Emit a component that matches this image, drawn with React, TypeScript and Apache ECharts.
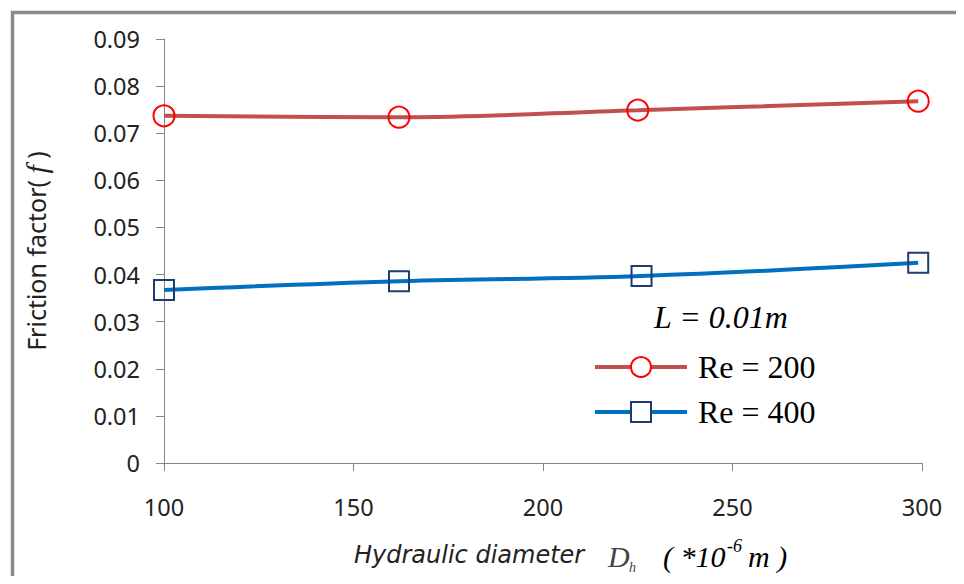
import React, { useEffect, useRef } from "react";
import * as echarts from "echarts";

const xRe200 = [100, 162, 225, 299];
const yRe200 = [0.0737, 0.0734, 0.0749, 0.0768];
const xRe400 = [100, 162, 226, 299];
const yRe400 = [0.0367, 0.0386, 0.0397, 0.0425];
const seriesNames = ["Re = 200", "Re = 400"];
const annotation = "L = 0.01m";

export default function App() {
  const ref = useRef<HTMLDivElement>(null);
  useEffect(() => {
    if (!ref.current) return;
    const chart = echarts.init(ref.current, undefined, { renderer: "svg" });
    const sans = "Noto Sans";
    const serif = "Liberation Serif";
    chart.setOption({
      animation: false,
      backgroundColor: "#ffffff",
      grid: { left: 164, right: 42, top: 39, bottom: 121, containLabel: false },
      xAxis: {
        type: "value",
        min: 100,
        max: 300,
        interval: 50,
        axisLine: { show: true, onZero: false, lineStyle: { color: "#868686", width: 1 } },
        axisTick: { show: true, length: 8, lineStyle: { color: "#868686" } },
        splitLine: { show: false },
        axisLabel: { color: "#222", fontFamily: sans, fontSize: 23.5, margin: 32 },
      },
      yAxis: {
        type: "value",
        min: 0,
        max: 0.09,
        interval: 0.01,
        axisLine: { show: true, lineStyle: { color: "#868686", width: 1 } },
        axisTick: { show: true, length: 8, lineStyle: { color: "#868686" } },
        splitLine: { show: false },
        axisLabel: {
          color: "#222",
          fontFamily: sans,
          fontSize: 23.5,
          margin: 24,
          formatter: (v: number) => (v === 0 ? "0" : v.toFixed(2)),
        },
        name: "{a|Friction factor( }{f|f}{a| )}",
        nameLocation: "middle",
        nameGap: 113,
        nameRotate: 90,
        nameTextStyle: {
          rich: {
            a: { fontFamily: sans, fontSize: 25, color: "#222" },
            f: { fontFamily: serif, fontStyle: "italic", fontSize: 30, color: "#222" },
          },
        },
      },
      legend: {
        orient: "vertical",
        left: 593,
        top: 351,
        padding: 0,
        itemWidth: 92,
        itemHeight: 25,
        itemGap: 13,
        textStyle: { fontFamily: serif, fontSize: 32, color: "#000", padding: [0, 0, 0, 6] },
        data: [
          { name: seriesNames[0], lineStyle: { color: "#C0504D", width: 4 }, itemStyle: { color: "#ffffff", borderColor: "#FF0000", borderWidth: 2 } },
          { name: seriesNames[1], lineStyle: { color: "#0070C0", width: 4 }, itemStyle: { color: "#ffffff", borderColor: "#1F3B73", borderWidth: 2 } },
        ],
      },
      series: [
        {
          name: seriesNames[0],
          type: "line",
          smooth: 0.4,
          data: xRe200.map((x, i) => [x, yRe200[i]]),
          symbol: "circle",
          symbolSize: 21,
          lineStyle: { color: "#C0504D", width: 4 },
          itemStyle: { color: "rgba(255,255,255,0)", borderColor: "#FF0000", borderWidth: 2 },
        },
        {
          name: seriesNames[1],
          type: "line",
          smooth: 0.4,
          data: xRe400.map((x, i) => [x, yRe400[i]]),
          symbol: "rect",
          symbolSize: 20,
          lineStyle: { color: "#0070C0", width: 4 },
          itemStyle: { color: "rgba(255,255,255,0)", borderColor: "#1F3B73", borderWidth: 2 },
        },
      ],
      graphic: [
        {
          type: "rect",
          left: 10,
          top: 10,
          shape: { x: 0, y: 0, width: 1200, height: 1200 },
          style: { fill: "none", stroke: "#8a8a8a", lineWidth: 3.5 },
          silent: true,
          z: -1,
        },
        {
          type: "text",
          x: 654,
          y: 317,
          style: { text: annotation, font: `italic 32px '${serif}'`, fill: "#000", verticalAlign: "middle" },
        },
        {
          type: "text",
          x: 354,
          y: 555,
          style: { text: "Hydraulic diameter", font: `oblique 24px 'DejaVu Sans'`, fill: "#222", verticalAlign: "middle" },
        },
        {
          type: "text",
          x: 608,
          y: 556,
          style: { text: "D", font: `italic 30px '${serif}'`, fill: "#444", verticalAlign: "middle" },
        },
        {
          type: "text",
          x: 629,
          y: 567,
          style: { text: "h", font: `italic 14px '${serif}'`, fill: "#444", verticalAlign: "middle" },
        },
        {
          type: "text",
          x: 663,
          y: 556,
          style: { text: "( *10", font: `italic 30px '${serif}'`, fill: "#000", verticalAlign: "middle" },
        },
        {
          type: "text",
          x: 727,
          y: 546,
          style: { text: "-6", font: `italic 18px '${serif}'`, fill: "#000", verticalAlign: "middle" },
        },
        {
          type: "text",
          x: 748,
          y: 556,
          style: { text: "m )", font: `italic 30px '${serif}'`, fill: "#000", verticalAlign: "middle" },
        },
      ],
    });
    return () => chart.dispose();
  }, []);
  return <div ref={ref} style={{ width: 964, height: 584, margin: -8 }} />;
}
